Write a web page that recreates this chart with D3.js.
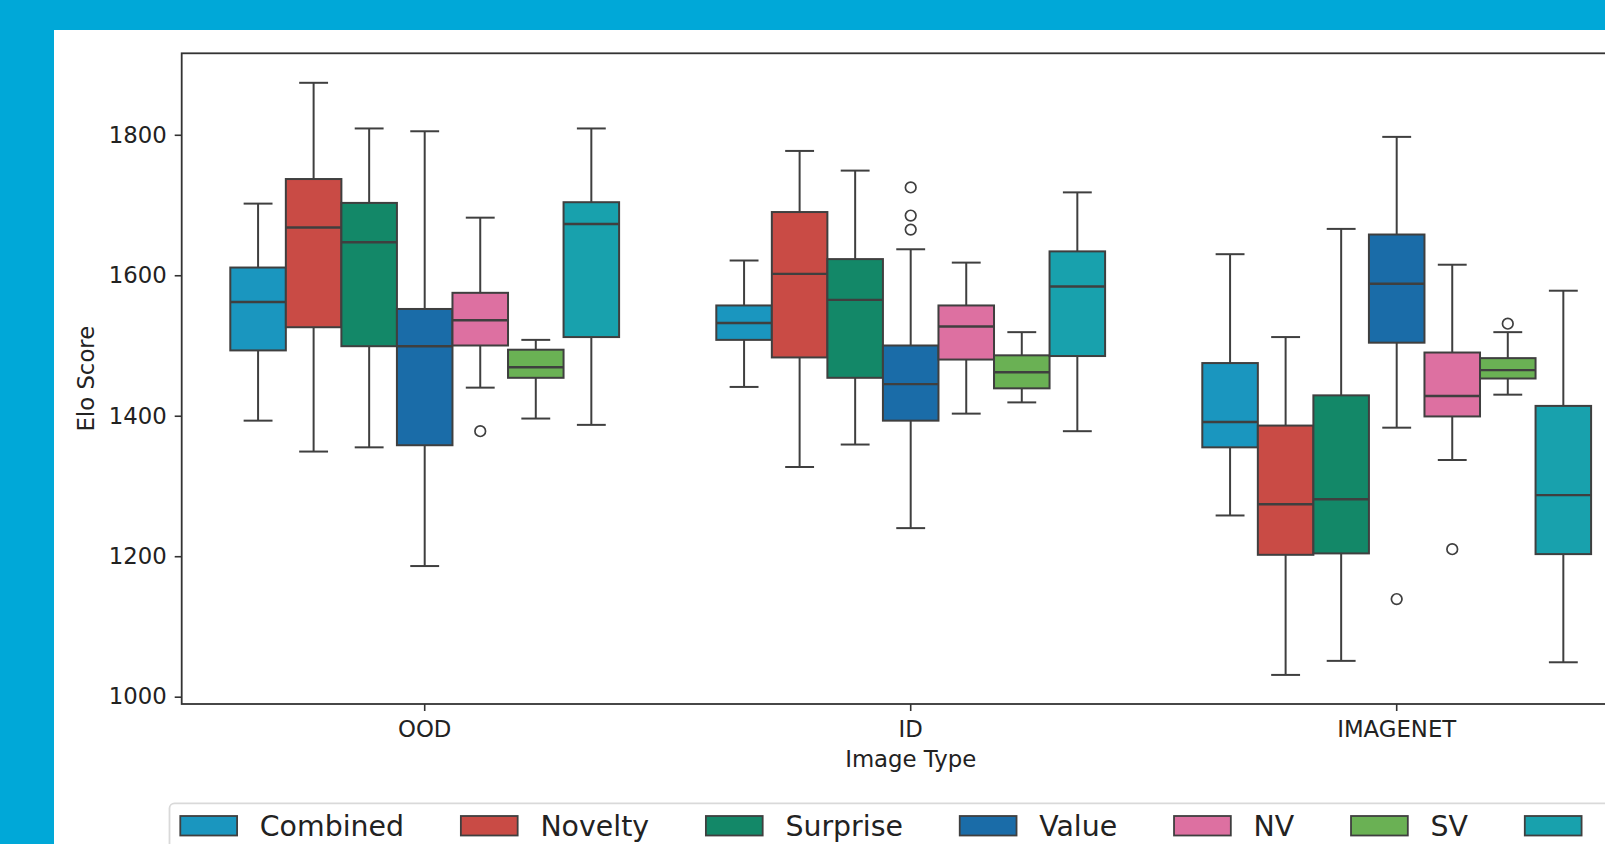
<!DOCTYPE html>
<html>
<head>
<meta charset="utf-8">
<script src="https://cdn.jsdelivr.net/npm/d3@7"></script>
<style>
  html, body { margin: 0; padding: 0; background: #00a8d8; overflow: hidden; }
  svg { display: block; font-family: "DejaVu Sans", sans-serif; }
</style>
</head>
<body>
<div id="chart"></div>
<script>
// categories
var imageTypes = ["OOD", "ID", "IMAGENET"];
var prompts = ["Combined", "Novelty", "Surprise", "Value", "NV", "SV", "NS"];
var colors = ["#1a96bf", "#c94b45", "#138868", "#1a6ca8", "#dd70a1", "#6ab154", "#18a1ad"];
var yTicks = [1000, 1200, 1400, 1600, 1800];

// box statistics, rows = image type, columns = prompt
var whiskerLow = [
  [1393, 1349, 1355, 1186, 1440, 1396, 1387],
  [1441, 1327, 1359, 1240, 1403, 1419, 1378],
  [1258, 1031, 1051, 1383, 1337, 1430, 1049]
];
var q1 = [
  [1493, 1526, 1499, 1358, 1500, 1454, 1512],
  [1508, 1483, 1454, 1393, 1480, 1439, 1485],
  [1355, 1202, 1204, 1504, 1399, 1453, 1203]
];
var median = [
  [1562, 1668, 1647, 1499, 1536, 1469, 1673],
  [1532, 1602, 1565, 1445, 1527, 1462, 1584],
  [1391, 1274, 1281, 1588, 1428, 1465, 1287]
];
var q3 = [
  [1611, 1737, 1703, 1552, 1575, 1494, 1704],
  [1557, 1690, 1623, 1500, 1557, 1486, 1634],
  [1475, 1386, 1429, 1658, 1490, 1482, 1414]
];
var whiskerHigh = [
  [1702, 1874, 1809, 1805, 1682, 1508, 1809],
  [1621, 1777, 1749, 1637, 1618, 1519, 1718],
  [1630, 1512, 1666, 1797, 1615, 1519, 1578]
];
var outliers = [
  { type: "OOD", prompt: "NV", value: 1378 },
  { type: "ID", prompt: "Value", value: 1725 },
  { type: "ID", prompt: "Value", value: 1685 },
  { type: "ID", prompt: "Value", value: 1665 },
  { type: "IMAGENET", prompt: "Value", value: 1139 },
  { type: "IMAGENET", prompt: "NV", value: 1210 },
  { type: "IMAGENET", prompt: "SV", value: 1531 }
];

var W = 1605, H = 844;
var margin = { left: 181.7, right: 1639.7, top: 53.3, bottom: 704 };
var lineColor = "#3f3f3f";
var textColor = "#222";

var svg = d3.select("#chart").append("svg")
  .attr("width", W)
  .attr("height", H);

// white figure panel on blue page
svg.append("rect")
  .attr("x", 54).attr("y", 30)
  .attr("width", 2000).attr("height", 1000)
  .attr("fill", "#ffffff");

// scales
var x = d3.scaleBand().domain(imageTypes).range([margin.left, margin.right]).padding(0);
var hue = d3.scaleBand().domain(prompts).range([0.1 * x.bandwidth(), 0.9 * x.bandwidth()]);
var y = d3.scaleLinear().domain([989.6, 1916]).range([margin.bottom, margin.top]);

// build box table
var boxes = [];
imageTypes.forEach(function (t, i) {
  prompts.forEach(function (p, j) {
    boxes.push({
      type: t, prompt: p, color: colors[j],
      lo: whiskerLow[i][j], q1: q1[i][j], med: median[i][j], q3: q3[i][j], hi: whiskerHigh[i][j]
    });
  });
});

var bw = hue.bandwidth();
var capW = bw * 0.52;
var g = svg.append("g");

var box = g.selectAll(".box")
  .data(boxes)
  .enter().append("g")
  .attr("class", "box")
  .attr("transform", function (d) { return "translate(" + (x(d.type) + hue(d.prompt)) + ",0)"; });

// whiskers
box.append("line")
  .attr("x1", bw / 2).attr("x2", bw / 2)
  .attr("y1", function (d) { return y(d.hi); })
  .attr("y2", function (d) { return y(d.q3); })
  .attr("stroke", lineColor).attr("stroke-width", 2);
box.append("line")
  .attr("x1", bw / 2).attr("x2", bw / 2)
  .attr("y1", function (d) { return y(d.q1); })
  .attr("y2", function (d) { return y(d.lo); })
  .attr("stroke", lineColor).attr("stroke-width", 2);

// caps
box.append("line")
  .attr("x1", (bw - capW) / 2).attr("x2", (bw + capW) / 2)
  .attr("y1", function (d) { return y(d.hi); })
  .attr("y2", function (d) { return y(d.hi); })
  .attr("stroke", lineColor).attr("stroke-width", 2);
box.append("line")
  .attr("x1", (bw - capW) / 2).attr("x2", (bw + capW) / 2)
  .attr("y1", function (d) { return y(d.lo); })
  .attr("y2", function (d) { return y(d.lo); })
  .attr("stroke", lineColor).attr("stroke-width", 2);

// box body
box.append("rect")
  .attr("x", 0)
  .attr("width", bw)
  .attr("y", function (d) { return y(d.q3); })
  .attr("height", function (d) { return y(d.q1) - y(d.q3); })
  .attr("fill", function (d) { return d.color; })
  .attr("stroke", lineColor).attr("stroke-width", 2);

// median
box.append("line")
  .attr("x1", 0).attr("x2", bw)
  .attr("y1", function (d) { return y(d.med); })
  .attr("y2", function (d) { return y(d.med); })
  .attr("stroke", lineColor).attr("stroke-width", 2.4);

// outliers
g.selectAll(".flier")
  .data(outliers)
  .enter().append("circle")
  .attr("class", "flier")
  .attr("cx", function (d) { return x(d.type) + hue(d.prompt) + bw / 2; })
  .attr("cy", function (d) { return y(d.value); })
  .attr("r", 5.3)
  .attr("fill", "none")
  .attr("stroke", lineColor)
  .attr("stroke-width", 1.7);

// spines
svg.append("rect")
  .attr("x", margin.left).attr("y", margin.top)
  .attr("width", margin.right - margin.left)
  .attr("height", margin.bottom - margin.top)
  .attr("fill", "none")
  .attr("stroke", "#333").attr("stroke-width", 1.8);

// y axis
var yAxis = svg.append("g")
  .attr("transform", "translate(" + margin.left + ",0)")
  .call(d3.axisLeft(y).tickValues(yTicks).tickSize(7).tickPadding(8).tickFormat(d3.format("d")));
yAxis.select(".domain").remove();
yAxis.selectAll(".tick line").attr("stroke", "#333").attr("stroke-width", 1.6);
yAxis.selectAll(".tick text")
  .attr("fill", textColor)
  .style("font-size", "22.8px")
  .style("font-family", "DejaVu Sans");

// x axis
var xAxis = svg.append("g")
  .attr("transform", "translate(0," + margin.bottom + ")")
  .call(d3.axisBottom(x).tickSize(7).tickPadding(0));
xAxis.select(".domain").remove();
xAxis.selectAll(".tick line").attr("stroke", "#333").attr("stroke-width", 1.6);
xAxis.selectAll(".tick text")
  .attr("y", 32.7).attr("dy", null)
  .attr("fill", textColor)
  .style("font-size", "22.8px")
  .style("font-family", "DejaVu Sans");

// axis labels
svg.append("text")
  .attr("x", (margin.left + margin.right) / 2)
  .attr("y", 766.7)
  .attr("text-anchor", "middle")
  .attr("fill", textColor)
  .style("font-size", "22.8px")
  .text("Image Type");

svg.append("text")
  .attr("transform", "translate(94," + ((margin.top + margin.bottom) / 2) + ") rotate(-90)")
  .attr("text-anchor", "middle")
  .attr("fill", textColor)
  .style("font-size", "22.8px")
  .text("Elo Score");

// legend (matplotlib style spacing)
var fs = 28.4;
var legend = svg.append("g");
var frame = legend.append("rect")
  .attr("x", 169.5).attr("y", 803.3)
  .attr("rx", 5).attr("ry", 5)
  .attr("height", 200)
  .attr("fill", "#ffffff")
  .attr("stroke", "#d9d9d9").attr("stroke-width", 1.8);

var lx = 169.5 + 0.38 * fs;
prompts.forEach(function (p, j) {
  legend.append("rect")
    .attr("x", lx).attr("y", 816)
    .attr("width", 2 * fs).attr("height", 19.5)
    .attr("fill", colors[j])
    .attr("stroke", lineColor).attr("stroke-width", 1.8);
  var t = legend.append("text")
    .attr("x", lx + 2 * fs + 0.8 * fs)
    .attr("y", 836)
    .attr("fill", textColor)
    .style("font-size", fs + "px")
    .text(p);
  lx += 2 * fs + 0.8 * fs + t.node().getComputedTextLength() + 2 * fs;
});
frame.attr("width", lx - 2 * fs + 0.4 * fs - 169.5);
</script>
</body>
</html>
